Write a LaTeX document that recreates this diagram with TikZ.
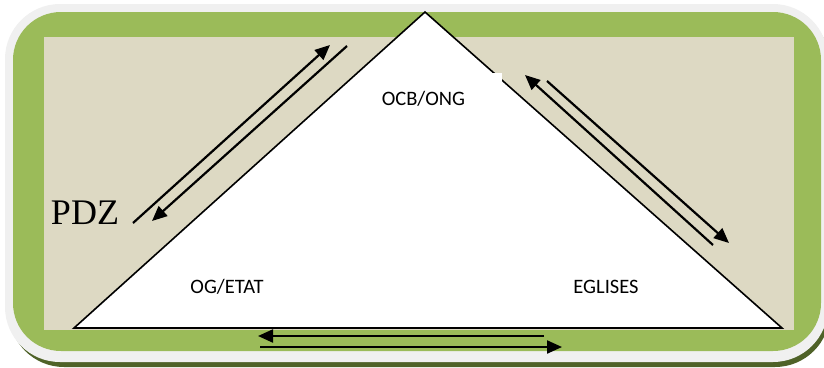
\documentclass[tikz,border=0pt]{standalone}
\usepackage{fontspec}
\setmainfont{Carlito}
\newfontfamily\pdzfont{Liberation Serif}
\usetikzlibrary{arrows.meta}
\definecolor{shadowgreen}{HTML}{4F6228}
\definecolor{framegray}{HTML}{F0F0F0}
\definecolor{olive}{HTML}{9BBB59}
\definecolor{tan}{HTML}{DDD9C3}
\tikzset{
  flowarrow/.style={line width=2.2pt, -{Triangle[length=15pt,width=13pt]}},
  lbl/.style={inner sep=0pt, font=\fontsize{20.5}{24}\selectfont, text=black},
}
\begin{document}
\begin{tikzpicture}[x=1pt,y=-1pt]
\useasboundingbox (0,0) rectangle (824,367);
% frame
\fill[shadowgreen, rounded corners=55pt] (9,9) rectangle (830,367);
\fill[framegray, rounded corners=55pt] (5,4) rectangle (828,362);
\fill[olive, rounded corners=48pt] (13,12) rectangle (821,351);
\fill[tan] (44,37) rectangle (794,330);
% triangle
\coordinate (apex) at (425,12);
\coordinate (bl) at (74,328);
\coordinate (br) at (782,328);
\draw[fill=white, line width=1.6pt, line join=miter] (apex) -- (bl) -- (br) -- cycle;
\draw[line width=2.4pt] (bl) -- (br);
\fill[white] (440,73) rectangle (502,84);
% labels
\node[lbl] (ocb) at (423.5,98.5) {OCB/ONG};
\node[lbl] (og) at (227,287) {OG/ETAT};
\node[lbl] (eg) at (606,287) {EGLISES};
\node[inner sep=0pt, font=\pdzfont\fontsize{36}{40}\selectfont] (pdz) at (85,213) {PDZ};
% arrows left
\coordinate (a1s) at (133,223); \coordinate (a1e) at (330,45);
\coordinate (a2s) at (347,46);  \coordinate (a2e) at (152,221);
\draw[flowarrow] (a1s) -- (a1e);
\draw[flowarrow] (a2s) -- (a2e);
% arrows right
\coordinate (b1s) at (713,245); \coordinate (b1e) at (525,75);
\coordinate (b2s) at (547,81);  \coordinate (b2e) at (729,243);
\draw[flowarrow] (b1s) -- (b1e);
\draw[flowarrow] (b2s) -- (b2e);
% arrows bottom
\coordinate (c1s) at (544,336); \coordinate (c1e) at (258,336);
\coordinate (c2s) at (260,347); \coordinate (c2e) at (562,347);
\draw[flowarrow] (c1s) -- (c1e);
\draw[flowarrow] (c2s) -- (c2e);
\end{tikzpicture}
\end{document}
